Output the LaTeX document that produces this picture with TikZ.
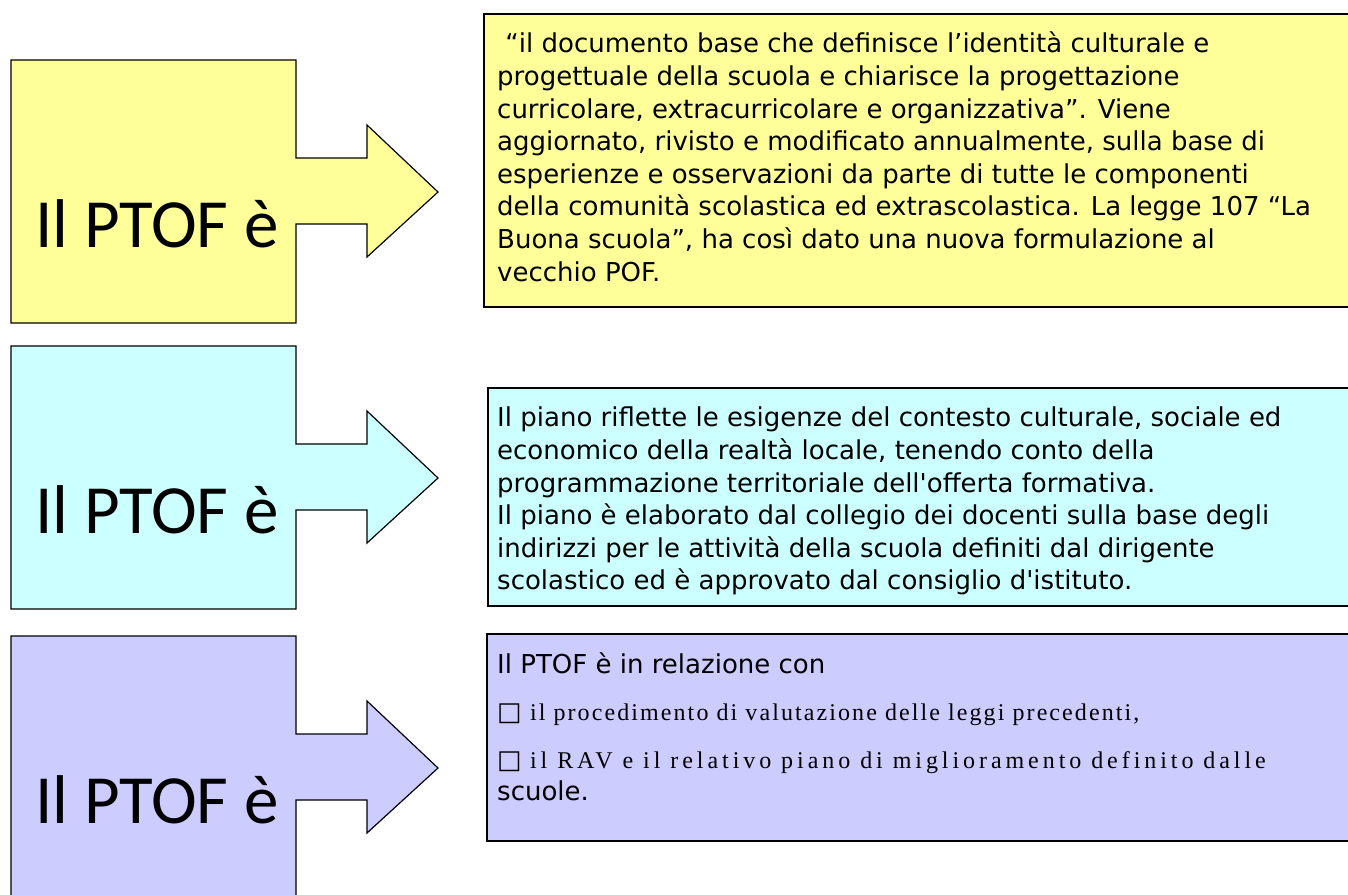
\documentclass[tikz,border=0pt]{standalone}
\usepackage{fontspec}
\setmainfont{DejaVu Sans}[Ligatures=TeXOff]
\newfontfamily\bigfont{Carlito}
\newfontfamily\serfont{Liberation Serif}
\usepackage{tikz}
\usetikzlibrary{positioning}
\definecolor{ptofyellow}{RGB}{255,255,153}
\definecolor{ptofcyan}{RGB}{204,255,255}
\definecolor{ptofviolet}{RGB}{204,204,255}

\begin{document}
\begin{tikzpicture}[x=1pt,y=-1pt,
    callout/.style={draw,line width=1.2pt,line join=miter},
    bigtext/.style={font=\bigfont\fontsize{69}{69}\selectfont,inner sep=0pt,anchor=base},
    textbox/.style={draw,line width=1.8pt,minimum width=900pt,anchor=north west,inner sep=0pt},
    boxtext/.style={align=left,anchor=north west,inner sep=0pt,font=\fontsize{26}{32.6}\selectfont}]
  \useasboundingbox (0,0) rectangle (1348,894);
  \clip (0,0) rectangle (1348,894);
  % the three arrow callouts on the left
  \foreach \t/\col/\n in {60/ptofyellow/a,346/ptofcyan/b,636/ptofviolet/c}{
    \draw[callout,fill=\col] (11,\t) -- ++(285,0) -- ++(0,98) -- ++(71,0) -- ++(0,-33)
      -- ++(71,67) -- ++(-71,65) -- ++(0,-33) -- ++(-71,0) -- ++(0,99) -- ++(-285,0) -- cycle;
    \node[bigtext] (lbl\n) at (157,\t+187) {Il PTOF è};
  }
  % text boxes on the right
  \node[textbox,fill=ptofyellow,minimum height=293pt] (boxa) at (483,13) {};
  \node[textbox,fill=ptofcyan,minimum height=218pt] (boxb) at (487,387) {};
  \node[textbox,fill=ptofviolet,minimum height=207pt] (boxc) at (486,633) {};

  \node[boxtext] (txta) at ([xshift=14pt,yshift=-19pt]boxa.north west)
    {\ “il documento base che definisce l’identità culturale e\\
     progettuale della scuola e chiarisce la progettazione\\
     curricolare, extracurricolare e organizzativa”. Viene\\
     aggiornato, rivisto e modificato annualmente, sulla base di\\
     esperienze e osservazioni da parte di tutte le componenti\\
     della comunità scolastica ed extrascolastica. La legge 107 “La\\
     Buona scuola”, ha così dato una nuova formulazione al\\
     vecchio POF.};
  \node[boxtext] (txtb) at ([xshift=10pt,yshift=-20pt]boxb.north west)
    {Il piano riflette le esigenze del contesto culturale, sociale ed\\
     economico della realtà locale, tenendo conto della\\
     programmazione territoriale dell'offerta formativa.\\
     Il piano è elaborato dal collegio dei docenti sulla base degli\\
     indirizzi per le attività della scuola definiti dal dirigente\\
     scolastico ed è approvato dal consiglio d'istituto.};
  \node[boxtext] (txtc) at ([xshift=11pt,yshift=-19pt]boxc.north west)
    {Il PTOF è in relazione con\\[15pt]
     □ {\serfont\addfontfeature{LetterSpace=8.7}\fontsize{24}{32.6}\selectfont il procedimento di valutazione delle leggi precedenti,}\\[15pt]
     □ {\serfont\addfontfeature{LetterSpace=16.4}\fontsize{24}{32.6}\selectfont il RAV e il relativo piano di miglioramento definito dalle}\\
     scuole.};
\end{tikzpicture}
\end{document}
